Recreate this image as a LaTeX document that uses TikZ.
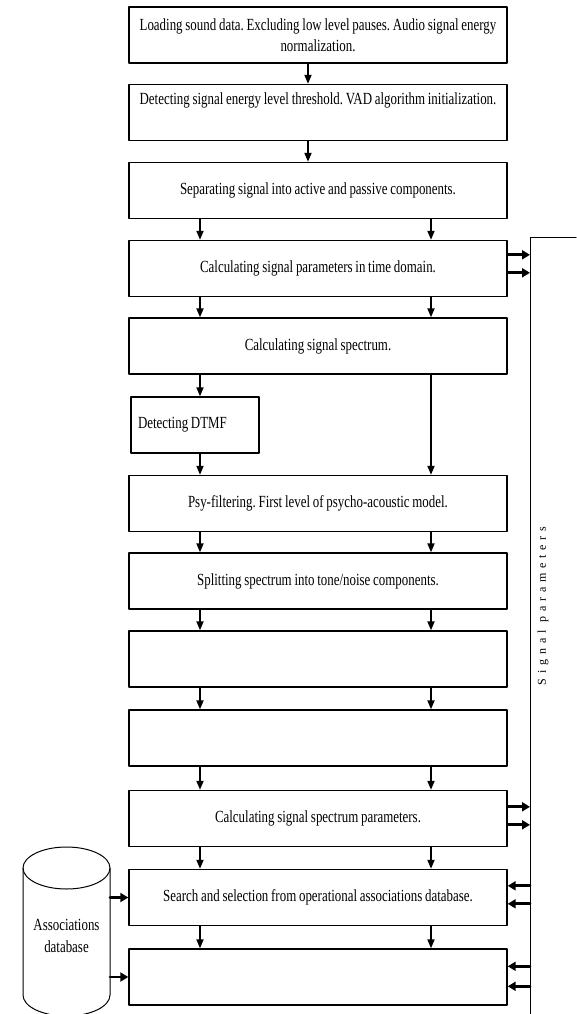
\documentclass[tikz,border=0pt]{standalone}
\usepackage{fontspec}
\setmainfont[FakeStretch=0.76,WordSpace=0.85]{Liberation Serif}
\newfontfamily\spacedserif[LetterSpace=40]{Liberation Serif}
\usetikzlibrary{arrows.meta}
\frenchspacing

\begin{document}
\begin{tikzpicture}[x=1pt,y=-1pt,line cap=round,line join=round,
    box/.style={draw,line width=1.4pt,minimum width=378pt,minimum height=56pt,
      align=center,inner sep=0pt,font=\fontsize{17}{21.5}\selectfont},
    arr/.style={line width=1.8pt,-{Triangle[length=9pt,width=7pt]}},
    busarr/.style={line width=2.8pt,-{Triangle[length=8pt,width=9pt]}}]
  \useasboundingbox (0,0) rectangle (577,1014);

  \node[box] (load) at (318,35) {Loading sound data. Excluding low level pauses. Audio signal energy\\ normalization.};
  \node[box] (vad) at (318,112.5) {Detecting signal energy level threshold. VAD algorithm initialization.\\ \strut};
  \node[box] (sep) at (318,190.5) {Separating signal into active and passive components.};
  \node[box] (time) at (318,268.5) {Calculating signal parameters in time domain.};
  \node[box] (spec) at (318,346) {Calculating signal spectrum.};
  \node[box,minimum width=128pt] (dtmf) at (195,425) {\makebox[114pt][l]{Detecting DTMF}};
  \node[box] (psy) at (318,503.5) {Psy-filtering. First level of psycho-acoustic model.};
  \node[box] (split) at (318,581) {Splitting spectrum into tone/noise components.};
  \node[box] (empA) at (318,659) {};
  \node[box] (empB) at (318,738) {};
  \node[box] (specpar) at (318,818.5) {Calculating signal spectrum parameters.};
  \node[box] (search) at (318,897.5) {Search and selection from operational associations database.};
  \node[box] (empC) at (318,977) {};

  \coordinate (colL) at (200,0);
  \coordinate (colM) at (308,0);
  \coordinate (colR) at (431,0);
  \coordinate (bus) at (530,237);
  \coordinate (busstart) at (576,237);
  \coordinate (busend) at (530,1014);
  \coordinate (dbR) at (110,0);

  \draw[arr] (load.south -| colM) -- (vad.north -| colM);
  \draw[arr] (vad.south -| colM) -- (sep.north -| colM);
  \foreach \a/\b in {sep/time,time/spec,psy/split,split/empA,empA/empB,empB/specpar,specpar/search,search/empC}{
    \draw[arr] (\a.south -| colL) -- (\b.north -| colL);
    \draw[arr] (\a.south -| colR) -- (\b.north -| colR);
  }
  \draw[arr] (spec.south -| colL) -- (dtmf.north -| colL);
  \draw[arr] (dtmf.south -| colL) -- (psy.north -| colL);
  \draw[arr] (spec.south -| colR) -- (psy.north -| colR);

  \draw[line width=1pt] (busstart) -- (bus) -- (busend);
  \foreach \n/\d in {time/15,time/33,specpar/17,specpar/35}
    \draw[busarr] ([yshift=-\d]\n.north east) -- ([yshift=-\d]\n.north east -| bus);
  \foreach \n/\d in {search/17,search/35,empC/18,empC/38}
    \draw[busarr] ([yshift=-\d]\n.north east -| bus) -- ([yshift=-\d]\n.north east);
  \node[rotate=90,font=\fontsize{12}{14}\spacedserif] (sigp) at (543,606) {Signal parameters};

  \draw[line width=1pt] (23,868) -- (23,995) arc[start angle=180,end angle=360,x radius=43.5pt,y radius=21pt] -- (110,868);
  \draw[line width=1pt] (66.5,868) ellipse[x radius=43.5pt,y radius=21pt];
  \node[font=\fontsize{17}{21.5}\selectfont,align=center] (db) at (66.5,936) {Associations\\database};
  \draw[busarr] (dbR |- search.west) -- (search.west);
  \draw[busarr] (dbR |- empC.west) -- (empC.west);
\end{tikzpicture}
\end{document}
